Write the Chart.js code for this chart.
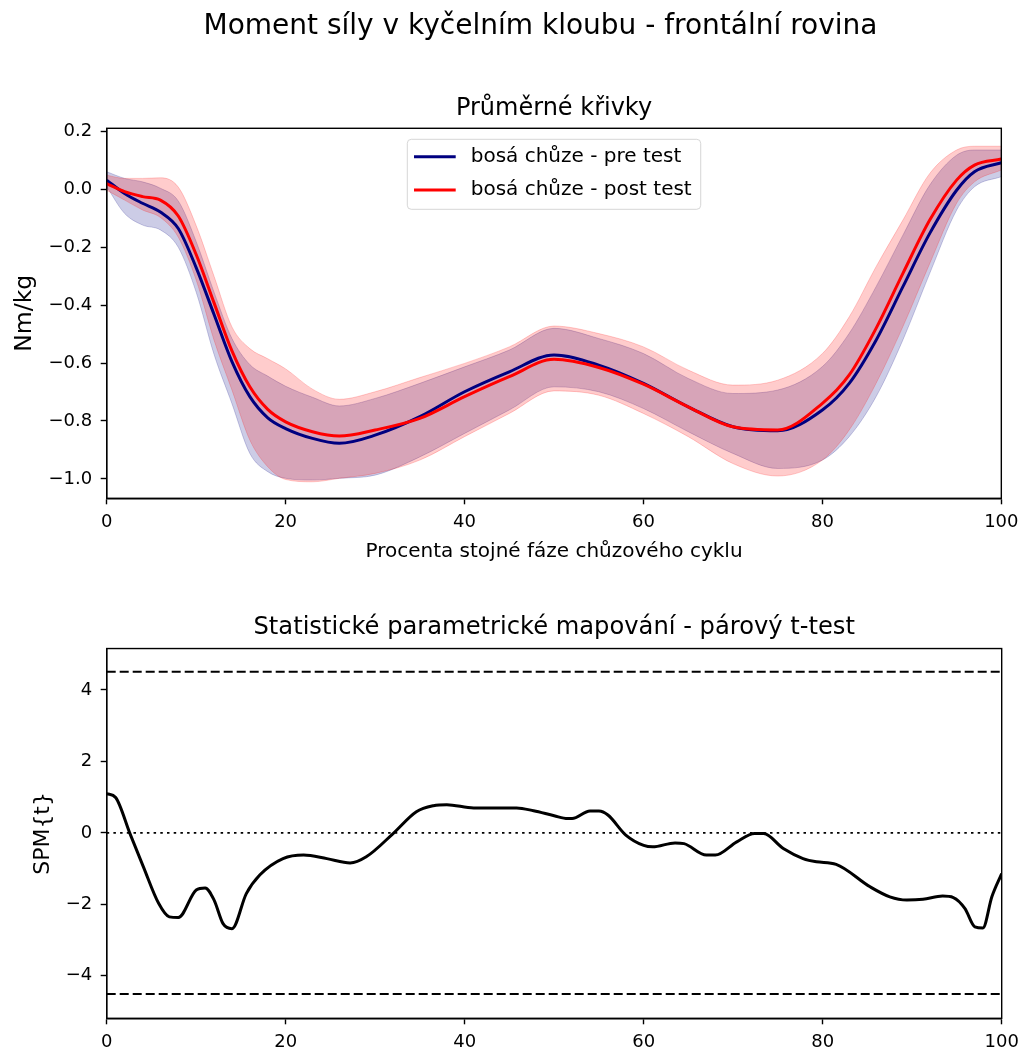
<!DOCTYPE html>
<html>
<head>
<meta charset="utf-8">
<script src="https://cdn.jsdelivr.net/npm/chart.js@4.4.1/dist/chart.umd.min.js"></script>
<style>
  html, body { margin: 0; padding: 0; background: #fff; }
  #wrap { position: relative; width: 1026px; height: 1052px; }
  canvas { position: absolute; left: 0; }
  #top { top: 0; }
  #bottom { top: 580px; }
</style>
</head>
<body>
<div id="wrap">
  <canvas id="top" width="1026" height="580"></canvas>
  <canvas id="bottom" width="1026" height="472"></canvas>
</div>
<script>
const FONT = "'DejaVu Sans', sans-serif";
Chart.defaults.font.family = FONT;
Chart.defaults.font.size = 18;
Chart.defaults.color = '#000';
Chart.defaults.animation = false;

const suptitle = 'Moment síly v kyčelním kloubu - frontální rovina';
const topTitle = 'Průměrné křivky';
const bottomTitle = 'Statistické parametrické mapování - párový t-test';
const xLabel = 'Procenta stojné fáze chůzového cyklu';
const preLabel = 'bosá chůze - pre test';
const postLabel = 'bosá chůze - post test';

const xTicks = [0, 20, 40, 60, 80, 100];
const momentTicks = [-1.0, -0.8, -0.6, -0.4, -0.2, 0.0, 0.2];
const spmTicks = [-4, -2, 0, 2, 4];

// % of stance phase where the curves were read
const stance = [0, 2, 4, 6, 8, 10, 12, 14, 16, 18, 20, 23, 26, 30, 35, 40, 45, 50, 55, 60, 65, 70, 75, 80, 83, 86, 89, 92, 95, 97, 100];

const preMean = [0.032, -0.014, -0.048, -0.078, -0.135, -0.270, -0.432, -0.595, -0.716, -0.789, -0.826, -0.860, -0.877, -0.849, -0.785, -0.699, -0.630, -0.572, -0.607, -0.670, -0.751, -0.820, -0.834, -0.762, -0.670, -0.521, -0.336, -0.152, -0.003, 0.061, 0.092];
const preUpper = [0.061, 0.038, 0.026, 0.004, -0.040, -0.180, -0.355, -0.515, -0.605, -0.645, -0.680, -0.718, -0.748, -0.722, -0.670, -0.613, -0.555, -0.480, -0.515, -0.567, -0.653, -0.705, -0.693, -0.612, -0.497, -0.336, -0.158, 0.015, 0.118, 0.136, 0.136];
const preLower = [0.009, -0.083, -0.123, -0.140, -0.200, -0.355, -0.570, -0.740, -0.912, -0.975, -0.998, -1.004, -0.998, -0.987, -0.924, -0.843, -0.762, -0.682, -0.699, -0.757, -0.837, -0.912, -0.964, -0.935, -0.854, -0.716, -0.520, -0.290, -0.072, 0.009, 0.044];

const postMean = [0.020, -0.008, -0.025, -0.037, -0.092, -0.225, -0.392, -0.558, -0.682, -0.760, -0.803, -0.837, -0.852, -0.831, -0.791, -0.716, -0.647, -0.587, -0.615, -0.673, -0.751, -0.820, -0.831, -0.739, -0.641, -0.480, -0.290, -0.106, 0.032, 0.084, 0.105];
const postUpper = [0.049, 0.038, 0.038, 0.040, 0.008, -0.125, -0.300, -0.475, -0.550, -0.585, -0.620, -0.690, -0.725, -0.699, -0.650, -0.601, -0.544, -0.472, -0.498, -0.544, -0.624, -0.676, -0.659, -0.567, -0.440, -0.267, -0.106, 0.055, 0.136, 0.149, 0.149];
const postLower = [-0.003, -0.037, -0.071, -0.097, -0.165, -0.313, -0.521, -0.693, -0.866, -0.958, -1.002, -1.010, -0.998, -0.981, -0.935, -0.854, -0.774, -0.696, -0.711, -0.774, -0.854, -0.947, -0.990, -0.935, -0.831, -0.670, -0.474, -0.256, -0.048, 0.026, 0.067];

// SPM{t} curve
const spmX = [0, 1, 2.6, 4.1, 5.8, 7, 8, 10, 11, 12, 13, 14, 15.6, 17.1, 19.7, 22, 24.6, 27.2, 29, 32, 34.6, 36.5, 38, 41, 45.8, 47.7, 50, 51.5, 52, 54, 55, 56, 58, 60, 61, 63.5, 64.5, 67, 68, 70.4, 72.4, 73.4, 75.6, 77.8, 79.3, 81.5, 85.3, 87.5, 89.4, 91.2, 93.4, 94.6, 95.9, 97, 97.9, 98.9, 100];
const spmT = [1.10, 0.99, -0.02, -0.95, -1.97, -2.35, -2.37, -1.60, -1.54, -1.88, -2.54, -2.68, -1.70, -1.18, -0.72, -0.62, -0.72, -0.84, -0.67, -0.02, 0.59, 0.76, 0.79, 0.70, 0.70, 0.62, 0.48, 0.40, 0.40, 0.61, 0.61, 0.50, -0.06, -0.35, -0.39, -0.28, -0.30, -0.62, -0.62, -0.25, -0.02, -0.02, -0.44, -0.72, -0.81, -0.88, -1.51, -1.79, -1.88, -1.86, -1.77, -1.81, -2.12, -2.63, -2.66, -1.79, -1.14];
const spmThreshold = 4.51;
const cycleRange = [0, 100];

function pts(xs, ys) {
    return xs.map((x, i) => ({x: x, y: ys[i]}));
}
function minus(s) {
    return String(s).replace('-', '\u2212');
}

// full box around the plot like matplotlib spines
const frame = {
    id: 'frame',
    afterDraw(chart) {
        const a = chart.chartArea, ctx = chart.ctx;
        ctx.save();
        ctx.strokeStyle = '#000';
        ctx.lineWidth = 1.4;
        ctx.strokeRect(a.left, a.top, a.right - a.left, a.bottom - a.top);
        ctx.restore();
    }
};

// figure title, sits off the plot centre like the original
const figTitle = {
    id: 'figTitle',
    afterDraw(chart, args, opts) {
        const ctx = chart.ctx;
        ctx.save();
        ctx.font = opts.size + 'px ' + FONT;
        ctx.fillStyle = '#000';
        ctx.textAlign = 'center';
        ctx.textBaseline = 'middle';
        ctx.fillText(opts.text, opts.x, opts.y);
        ctx.restore();
    }
};

// legend box in upper center of the plot
const boxLegend = {
    id: 'boxLegend',
    afterDatasetsDraw(chart) {
        const ctx = chart.ctx, a = chart.chartArea;
        const items = chart.data.datasets.filter(d => d.label);
        ctx.save();
        ctx.font = '20px ' + FONT;
        const textW = Math.max(...items.map(d => ctx.measureText(d.label).width));
        const rowH = 33.3;
        const w = 6.7 + 41.7 + 15 + textW + 9;
        const h = 17.4 + rowH * (items.length - 1) + 19.3;
        const x = (a.left + a.right) / 2 - w / 2, y = a.top + 11;
        ctx.beginPath();
        ctx.roundRect(x, y, w, h, 4);
        ctx.fillStyle = 'rgba(255,255,255,0.8)';
        ctx.fill();
        ctx.strokeStyle = 'rgba(204,204,204,0.8)';
        ctx.lineWidth = 1;
        ctx.stroke();
        items.forEach((d, i) => {
            const cy = y + 17.4 + i * rowH;
            ctx.strokeStyle = d.borderColor;
            ctx.lineWidth = d.borderWidth;
            ctx.beginPath();
            ctx.moveTo(x + 6.7, cy);
            ctx.lineTo(x + 48.4, cy);
            ctx.stroke();
            ctx.fillStyle = '#000';
            ctx.textBaseline = 'middle';
            ctx.textAlign = 'left';
            ctx.fillText(d.label, x + 63.4, cy);
        });
        ctx.restore();
    }
};

function band(data, color, order, fill) {
    return {
        label: '', data: data, borderColor: color, backgroundColor: color,
        borderWidth: 1, pointRadius: 0, fill: fill, order: order,
        cubicInterpolationMode: 'monotone'
    };
}
function meanLine(label, data, color, order) {
    return {
        label: label, data: data, borderColor: color, borderWidth: 3,
        pointRadius: 0, fill: false, order: order, cubicInterpolationMode: 'monotone'
    };
}

const tickGrid = { drawOnChartArea: false, tickLength: 6, tickWidth: 1.4, tickColor: '#000' };
const axisBorder = { color: '#000', width: 1.4 };

new Chart(document.getElementById('top'), {
    type: 'line',
    data: {
        datasets: [
            band(pts(stance, preUpper), 'rgba(0,0,128,0.2)', 6, '+1'),
            band(pts(stance, preLower), 'rgba(0,0,128,0.2)', 6, false),
            band(pts(stance, postUpper), 'rgba(255,0,0,0.2)', 5, '+1'),
            band(pts(stance, postLower), 'rgba(255,0,0,0.2)', 5, false),
            meanLine(preLabel, pts(stance, preMean), '#000080', 2),
            meanLine(postLabel, pts(stance, postMean), '#ff0000', 1)
        ]
    },
    options: {
        responsive: false,
        layout: { padding: { left: 0, right: 24.3, top: 43.3, bottom: 0 } },
        plugins: {
            legend: { display: false },
            tooltip: { enabled: false },
            figTitle: { text: suptitle, size: 28, x: 540.5, y: 26.5 },
            title: { display: true, fullSize: false, text: topTitle, color: '#000', font: { size: 24, weight: 'normal' }, padding: { top: 50.8, bottom: 5.4 } }
        },
        scales: {
            x: {
                type: 'linear', min: cycleRange[0], max: cycleRange[1],
                afterBuildTicks: s => { s.ticks = xTicks.map(v => ({value: v})); },
                afterFit: s => { s.height = 81.7; },
                grid: tickGrid, border: axisBorder,
                ticks: { padding: 7.5, maxRotation: 0, autoSkip: false },
                title: { display: true, text: xLabel, font: { size: 20 }, padding: { top: 0, bottom: 16 } }
            },
            y: {
                min: -1.067, max: 0.211,
                afterBuildTicks: s => { s.ticks = momentTicks.map(v => ({value: v})); },
                afterFit: s => { s.width = 106.7; },
                grid: tickGrid, border: axisBorder,
                ticks: { padding: 8.5, callback: v => minus(v.toFixed(1)) },
                title: { display: true, text: 'Nm/kg', font: { size: 23.5 }, padding: { top: 11, bottom: 0 } }
            }
        }
    },
    plugins: [frame, boxLegend, figTitle]
});

new Chart(document.getElementById('bottom'), {
    type: 'line',
    data: {
        datasets: [
            { data: pts(spmX, spmT), borderColor: '#000', borderWidth: 3, pointRadius: 0, fill: false, order: 0, cubicInterpolationMode: 'monotone' },
            { data: pts(cycleRange, [spmThreshold, spmThreshold]), borderColor: '#000', borderWidth: 1.8, borderDash: [9, 4], pointRadius: 0, fill: false, order: 1 },
            { data: pts(cycleRange, [-spmThreshold, -spmThreshold]), borderColor: '#000', borderWidth: 1.8, borderDash: [9, 4], pointRadius: 0, fill: false, order: 1 },
            { data: pts(cycleRange, [0, 0]), borderColor: '#000', borderWidth: 1.8, borderDash: [2.5, 4.2], pointRadius: 0, fill: false, order: 1 }
        ]
    },
    options: {
        responsive: false,
        layout: { padding: { left: 0, right: 24.3, top: 0, bottom: 0 } },
        plugins: {
            legend: { display: false },
            tooltip: { enabled: false },
            title: { display: true, fullSize: false, text: bottomTitle, color: '#000', font: { size: 24.2, weight: 'normal' }, padding: { top: 33.6, bottom: 5.9 } }
        },
        scales: {
            x: {
                type: 'linear', min: cycleRange[0], max: cycleRange[1],
                afterBuildTicks: s => { s.ticks = xTicks.map(v => ({value: v})); },
                afterFit: s => { s.height = 33.7; },
                grid: tickGrid, border: axisBorder,
                ticks: { padding: 7, maxRotation: 0, autoSkip: false }
            },
            y: {
                min: -5.19, max: 5.16,
                afterBuildTicks: s => { s.ticks = spmTicks.map(v => ({value: v})); },
                afterFit: s => { s.width = 106.7; },
                grid: tickGrid, border: axisBorder,
                ticks: { padding: 8.5, callback: v => minus(v) },
                title: { display: true, text: 'SPM{t}', font: { size: 22 }, padding: { top: 30, bottom: 0 } }
            }
        }
    },
    plugins: [frame]
});
</script>
</body>
</html>
